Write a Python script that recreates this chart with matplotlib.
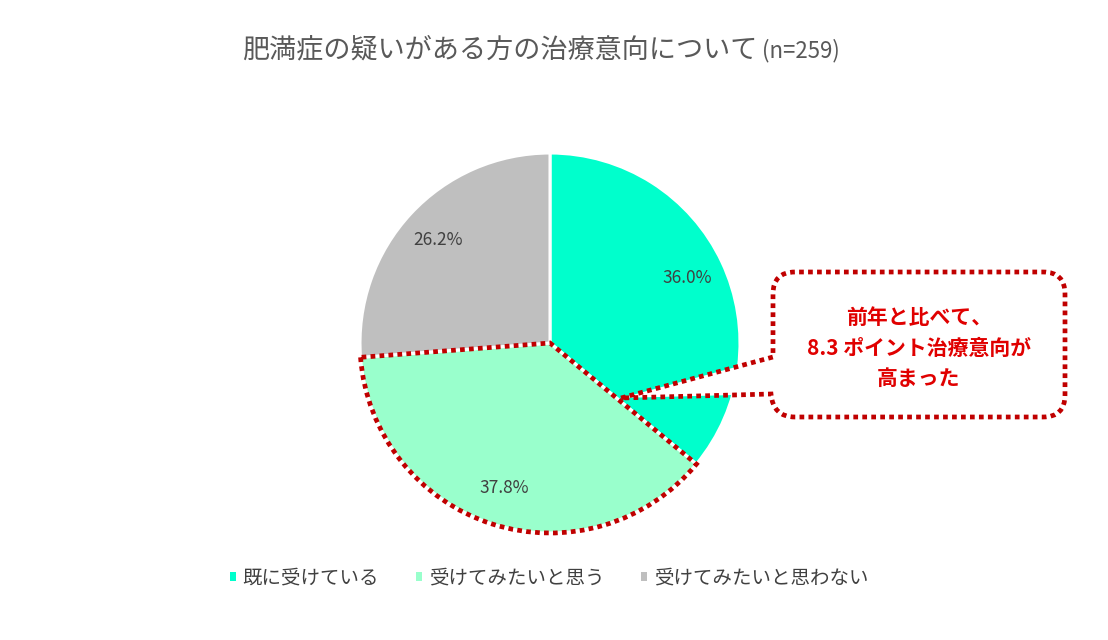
import matplotlib.pyplot as plt
from matplotlib.patches import Wedge, PathPatch
from matplotlib.path import Path

plt.rcParams['font.family'] = ['Noto Sans CJK JP', 'DejaVu Sans']

# data
title_main = '肥満症の疑いがある方の治療意向について'
title_n = '(n=259)'
categories = ['既に受けている', '受けてみたいと思う', '受けてみたいと思わない']
shares = [36.0, 37.8, 26.2]
colors = ['#00FFCC', '#99FFCC', '#BFBFBF']
callout_lines = ['前年と比べて、', '8.3 ポイント治療意向が', '高まった']

W, H = 1108, 640
fig = plt.figure(figsize=(W / 100, H / 100), dpi=100)
ax = fig.add_axes([0, 0, 1, 1])


def py(y):
    # pixel row (from top) -> data y
    return H - y


# pie
cx, cy, r = 550, py(343), 190
wedges, texts, autotexts = ax.pie(
    shares, colors=colors, startangle=90, counterclock=False,
    center=(cx, cy), radius=r,
    wedgeprops=dict(edgecolor='white', linewidth=2.2),
    autopct='%.1f%%', pctdistance=0.8,
    textprops=dict(color='#404040', fontsize=12.5))

# highlight the second slice
hl = wedges[1]
ax.add_patch(Wedge((cx, cy), r, hl.theta1, hl.theta2, fill=False,
                   edgecolor='#C00000', linewidth=3.4,
                   linestyle=(0, (1, 0.9)), zorder=5))

# callout bubble
L, R, T, B, cr = 773, 1065, 272, 417, 22
tip = (621, 398)
pts = [
    (tip, Path.MOVETO),
    ((L, 357), Path.LINETO),
    ((L, T + cr), Path.LINETO),
    ((L, T), Path.CURVE3), ((L + cr, T), Path.CURVE3),
    ((R - cr, T), Path.LINETO),
    ((R, T), Path.CURVE3), ((R, T + cr), Path.CURVE3),
    ((R, B - cr), Path.LINETO),
    ((R, B), Path.CURVE3), ((R - cr, B), Path.CURVE3),
    ((L + cr, B), Path.LINETO),
    ((L, B), Path.CURVE3), ((L - 2, B - 23), Path.CURVE3),
    (tip, Path.LINETO),
]
verts = [(x, py(y)) for (x, y), c in pts]
codes = [c for p, c in pts]
bubble = PathPatch(Path(verts, codes), facecolor='white', edgecolor='#C00000',
                   linewidth=3.4, linestyle=(0, (1, 0.9)), zorder=4)
ax.add_patch(bubble)
ax.text((L + R) / 2, py(348), '\n'.join(callout_lines), ha='center', va='center',
        fontsize=15, fontweight='bold', color='#E00000', linespacing=1.55, zorder=6)

# title
ax.text(757, py(50), title_main, ha='right', va='center', fontsize=19.5, color='#595959')
ax.text(762, py(51), title_n, ha='left', va='center', fontsize=16, color='#595959')

# legend
ax.legend(wedges, categories, loc='center', bbox_to_anchor=(549 / W, 1 - 578 / H),
          ncol=3, frameon=False, fontsize=14, labelcolor='#404040',
          handlelength=0.3, handleheight=0.3, handletextpad=0.35,
          columnspacing=1.9)
for h in ax.get_legend().legend_handles:
    h.set_edgecolor('none')

ax.set_xlim(0, W)
ax.set_ylim(0, H)
ax.set_aspect('equal')
ax.axis('off')

fig.savefig('out.png', dpi=100, facecolor='white')
